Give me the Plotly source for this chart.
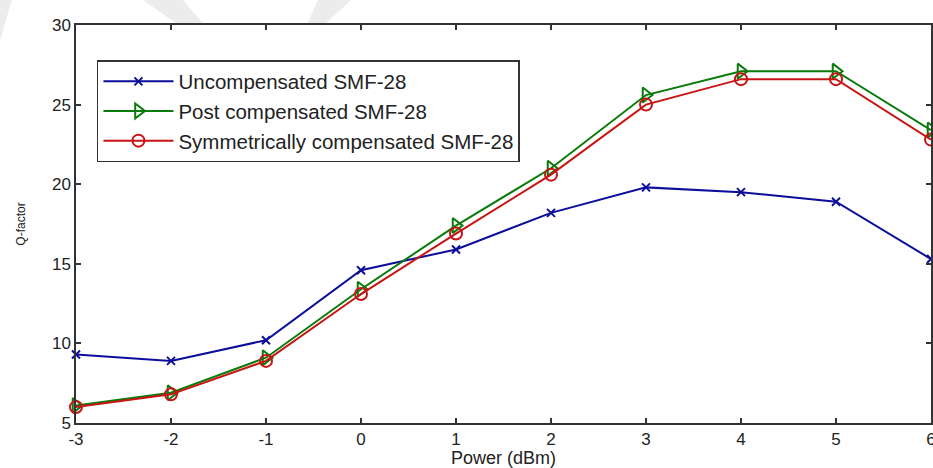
import plotly.graph_objects as go

power = [-3, -2, -1, 0, 1, 2, 3, 4, 5, 6]
uncomp = [9.3, 8.9, 10.2, 14.6, 15.9, 18.2, 19.8, 19.5, 18.9, 15.3]
post = [6.1, 6.9, 9.1, 13.4, 17.4, 21.0, 25.6, 27.1, 27.1, 23.4]
symm = [6.0, 6.8, 8.9, 13.1, 16.9, 20.6, 25.0, 26.6, 26.6, 22.8]

names = ["Uncompensated SMF-28", "Post compensated SMF-28", "Symmetrically compensated SMF-28"]
colors = ["#0d0d9c", "#0a7a0a", "#c81414"]
symbols = ["x-thin-open", "triangle-right-open", "circle-open"]
sizes = [8, 13, 12]

xticks = [-3, -2, -1, 0, 1, 2, 3, 4, 5, 6]
xticklabels = ["-3", "-2", "-1", "0", "1", "2", "3", "4", "5", "6"]
yticks = [5, 10, 15, 20, 25, 30]
yticklabels = ["5", "10", "15", "20", "25", "30"]

fig = go.Figure()
for ys, nm, c, s, sz in zip([uncomp, post, symm], names, colors, symbols, sizes):
    fig.add_trace(go.Scatter(
        x=power, y=ys, name=nm, mode="lines+markers",
        line=dict(color=c, width=2),
        marker=dict(symbol=s, size=sz, color=c, line=dict(color=c, width=2)),
        cliponaxis=False,
    ))

font_family = "Liberation Sans, Arial, sans-serif"
axis_common = dict(
    showline=True, linecolor="#333333", linewidth=1.5, mirror="ticks",
    ticks="inside", ticklen=5, tickcolor="#333333", tickwidth=1.5,
    showgrid=False, zeroline=False, automargin=False,
    ticklabeloverflow="allow",
    tickfont=dict(family=font_family, size=17, color="#222222"),
)

fig.update_layout(
    width=933, height=468,
    margin=dict(l=76, r=2, t=25, b=45),
    paper_bgcolor="white", plot_bgcolor="white",
    font=dict(family=font_family, color="#222222"),
    xaxis=dict(range=[-3, 6], tickvals=xticks, ticktext=xticklabels,
               title=dict(text="Power (dBm)", font=dict(size=18, family=font_family), standoff=0),
               **axis_common),
    yaxis=dict(range=[5, 30], tickvals=yticks, ticktext=yticklabels,
               title=dict(text="Q-factor", font=dict(size=12, family=font_family), standoff=24),
               **axis_common),
    legend=dict(x=0.0245, y=0.912, xanchor="left", yanchor="top",
                bgcolor="white", bordercolor="#333333", borderwidth=1.5,
                font=dict(size=20.5, family=font_family, color="#222222"),
                itemwidth=70, tracegroupgap=0),
    showlegend=True,
)

# faint watermark shapes near the top
fig.add_shape(type="path", xref="paper", yref="paper",
              path="M -0.089 1.063 L -0.075 1.063 L -0.089 0.96 Z",
              fillcolor="#ececec", line=dict(width=0), layer="below")
fig.add_shape(type="path", xref="paper", yref="paper",
              path="M 0.078 1.063 L 0.125 1.063 L 0.15 1.0 L 0.12 1.0 Z",
              fillcolor="#ececec", line=dict(width=0), layer="below")
fig.add_shape(type="path", xref="paper", yref="paper",
              path="M 0.283 1.063 L 0.322 1.063 L 0.29 1.0 L 0.27 1.0 Z",
              fillcolor="#ececec", line=dict(width=0), layer="below")

fig.write_html("out.html", config={"displayModeBar": False},
               post_script="document.body.style.margin='0';document.body.style.overflow='hidden';")
